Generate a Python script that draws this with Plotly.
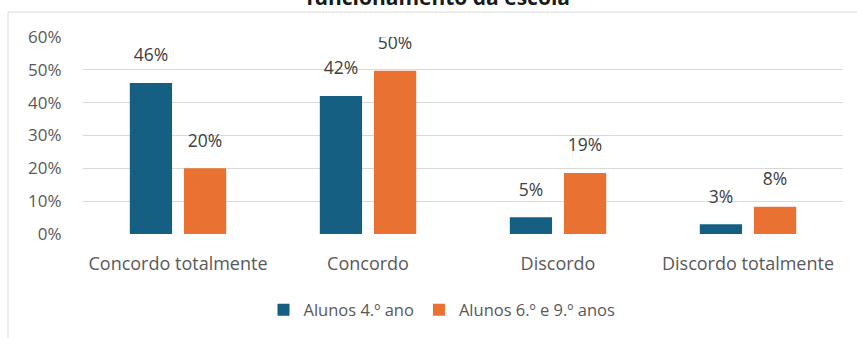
import plotly.graph_objects as go

categories = ["Concordo totalmente", "Concordo", "Discordo", "Discordo totalmente"]
series_names = ["Alunos 4.º ano", "Alunos 6.º e 9.º anos"]
alunos_4 = [0.46, 0.42, 0.051, 0.03]
alunos_6_9 = [0.20, 0.497, 0.186, 0.083]
y_ticks = [0, 0.1, 0.2, 0.3, 0.4, 0.5, 0.6]
title_text = "funcionamento da escola"

colors = ["#156082", "#E97132"]
FONT = "Open Sans"

fig = go.Figure()
for name, vals, col, grp in [(series_names[0], alunos_4, colors[0], "a"),
                             (series_names[1], alunos_6_9, colors[1], "b")]:
    fig.add_trace(go.Bar(
        x=categories, y=vals, name=name, marker_color=col,
        marker_line_width=0, offsetgroup=grp, hoverinfo="skip",
    ))
for vals, grp in [(alunos_4, "a"), (alunos_6_9, "b")]:
    fig.add_trace(go.Scatter(
        x=categories, y=vals, mode="markers+text", offsetgroup=grp,
        marker=dict(size=26, opacity=0), text=[f"{v:.0%}" for v in vals],
        textposition="top center", textfont=dict(size=17.5, color="#404040", family=FONT),
        showlegend=False, hoverinfo="skip",
    ))

L, R, T, B = 83, 14, 37, 103
W, H = 857, 338
pw, ph = W - L - R, H - T - B
px2x = lambda p: (p - L) / pw
py2y = lambda p: (H - B - p) / ph

fig.add_shape(type="rect", xref="paper", yref="paper",
              x0=px2x(8), x1=px2x(W + 10), y0=py2y(H + 10), y1=py2y(12),
              line=dict(color="#D9D9D9", width=1), fillcolor="rgba(0,0,0,0)", layer="below")

fig.add_annotation(text=f"<b>{title_text}</b>", xref="paper", yref="paper",
                   x=px2x(438), y=py2y(-3), xanchor="center", yanchor="middle",
                   showarrow=False, font=dict(size=21, color="#1a1a1a", family=FONT))

fig.update_layout(
    width=W, height=H,
    margin=dict(l=L, r=R, t=T, b=B),
    paper_bgcolor="white", plot_bgcolor="white",
    barmode="group", bargap=0.43, bargroupgap=0.22,
    scattermode="group", scattergap=0.43,
    font=dict(family=FONT, color="#595959", size=17),
    legend=dict(orientation="h", x=px2x(442), xanchor="center", y=py2y(310), yanchor="middle",
                font=dict(size=16.5, color="#595959"), itemwidth=30, traceorder="normal"),
    xaxis=dict(showgrid=False, showline=False, ticks="outside", ticklen=13, tickcolor="rgba(0,0,0,0)",
               tickfont=dict(size=18, color="#595959")),
    yaxis=dict(range=[0, 0.6], tickvals=y_ticks, tickformat=".0%", showgrid=True,
               gridcolor="#D9D9D9", gridwidth=1, zeroline=False, showline=False,
               ticks="outside", ticklen=17, tickcolor="rgba(0,0,0,0)",
               tickfont=dict(size=17, color="#595959")),
)

fig.write_html("out.html")
